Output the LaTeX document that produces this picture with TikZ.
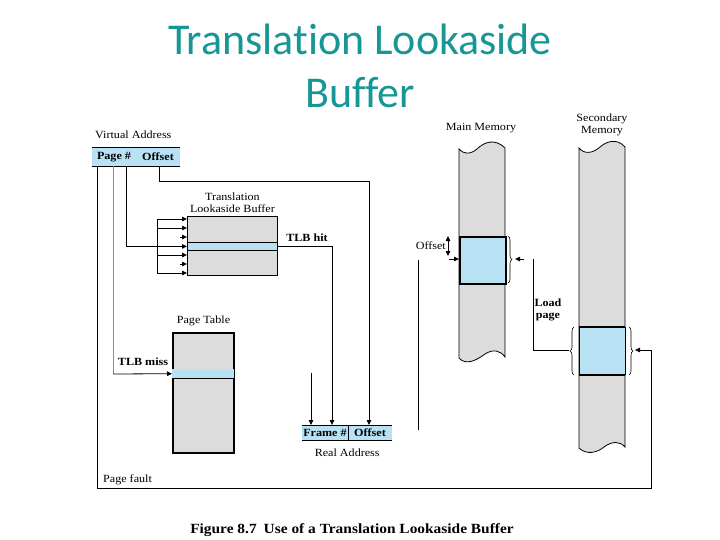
\documentclass[tikz,border=0pt]{standalone}
\usepackage{fontspec}
\setmainfont[FakeStretch=1.1]{Liberation Serif}
\newfontfamily\titlefont[Ligatures=NoCommon]{Carlito}
\usetikzlibrary{arrows.meta,positioning,decorations.pathreplacing}
\definecolor{titleteal}{RGB}{23,150,150}
\definecolor{colgray}{RGB}{220,220,221}
\definecolor{hiblue}{RGB}{184,226,244}

\begin{document}
\begin{tikzpicture}[x=1pt, y=-1pt,
    lbl/.style={font=\fontsize{11}{12.5}\selectfont, inner sep=0pt, align=center},
    boldlbl/.style={lbl, font=\fontsize{11}{12.5}\selectfont\bfseries},
    titletext/.style={font=\titlefont\fontsize{44}{50}\selectfont, text=titleteal, inner sep=0pt, anchor=base},
    tblbox/.style={draw, fill=colgray, inner sep=0pt, anchor=north west, line width=0.8pt},
    field/.style={fill=hiblue, inner sep=0pt, anchor=north west},
    wire/.style={line width=0.8pt},
    link/.style={wire, -{Triangle[length=5pt, width=4.5pt]}},
    twoway/.style={wire, {Triangle[length=5pt, width=4.5pt]}-{Triangle[length=5pt, width=4.5pt]}},
    memcol/.style={draw, fill=colgray, line width=0.8pt},
    curly/.style={decorate, decoration={brace, amplitude=4pt}, line width=0.6pt}
]
\useasboundingbox[fill=white] (0,0) rectangle (720,540);

% title
\node[titletext] (title) at (360,55) {Translation Lookaside};
\node[titletext] (title2) at (360,108) {Buffer};

% virtual address
\node[field, minimum width=88pt, minimum height=19pt] (va) at (92,147) {};
\draw[wire] (va.north west) -- (va.north east);
\draw[wire] (va.south west) -- (va.south east);
\node[boldlbl] (vapage) at (114,157) {Page \#};
\node[boldlbl] (vaoff) at (158,157) {Offset};
\node[lbl, anchor=west] (valabel) at (95,135) {Virtual Address};

% translation lookaside buffer
\node[tblbox, minimum width=90pt, minimum height=59pt] (tlb) at (187,216) {};
\node[field, draw, line width=0.8pt, minimum width=90pt, minimum height=8pt] (tlbrow) at (187,242) {};
\node[lbl, above=3pt of tlb] (tlblabel) {Translation\\Lookaside Buffer};
\draw[wire] (157,219) -- (157,273);
\foreach \yy in {219,228,255,273}
  \draw[link] (157,\yy) -- (tlb.west |- 0,\yy);
\foreach \yy in {237,264}
  \draw[link] (180,\yy) -- (tlb.west |- 0,\yy);
\draw[link] (126,166) |- (tlbrow.west);
\node[boldlbl] (hitlabel) at (307,238) {TLB hit};

% page table
\node[tblbox, line width=2pt, minimum width=61pt, minimum height=120pt] (pt) at (172,332) {};
\node[field, minimum width=62pt, minimum height=9pt] (ptrow) at (172,369) {};
\draw[wire] (ptrow.south west) -- (ptrow.south east);
\node[lbl, above=6pt of pt] (ptlabel) {Page Table};
\draw[wire, black!45] (113,166) -- (113,374);
\draw[link] (113,374) -- (ptrow.west);
\node[boldlbl] (misslabel) at (143,362) {TLB miss};

% real address
\node[field, minimum width=90pt, minimum height=15pt] (ra) at (302,425) {};
\draw[wire] (ra.north west) -- (ra.north east);
\draw[wire] (ra.south west) -- (ra.south east);
\draw[wire] (348,425) -- (348,440);
\node[boldlbl] (raframe) at (325,433) {Frame \#};
\node[boldlbl] (raoff) at (370,433) {Offset};
\node[lbl, below=8pt of ra] (ralabel) {Real Address};

% address connectors
\draw[link] (159,166) -- (159,181) -| (369,425);
\draw[link] (tlbrow.east) -| (332,425);
\draw[link] (311,373) -- (311,425);
\draw[wire] (418,430) -- (418,260);

% main memory
\draw[memcol] (459,149) .. controls (463,154) and (470,155) .. (477,149)
  .. controls (484,142) and (495,138) .. (505,148) -- (505,357)
  .. controls (500,350) and (493,349) .. (485,354)
  .. controls (477,360) and (466,366) .. (459,358) -- cycle;
\node[field, draw, line width=2pt, minimum width=46pt, minimum height=47pt] (mmblk) at (459,236) {};
\node[lbl] (mmlabel) at (481,128) {Main Memory};
\draw[twoway] (448,236) -- (448,256);
\node[lbl, anchor=east] (offlabel) at (446,246) {Offset};
\draw[link] (449,259) -- (mmblk.west |- 0,259);
\draw[curly] (508,236) -- (508,283);

% secondary memory
\draw[memcol] (579,148) .. controls (584,154) and (592,154) .. (600,147)
  .. controls (607,141) and (617,138) .. (625,147) -- (625,447)
  .. controls (620,441) and (612,441) .. (604,447)
  .. controls (597,453) and (586,455) .. (579,448) -- cycle;
\node[field, minimum width=46pt, minimum height=48pt] (smblk) at (579,327) {};
\draw[line width=2pt] (smblk.north west) -- (smblk.north east);
\draw[line width=2pt] (smblk.south west) -- (smblk.south east);
\draw[wire] (smblk.north west) -- (smblk.south west);
\draw[wire] (smblk.north east) -- (smblk.south east);
\node[lbl] (smlabel) at (602,125) {Secondary\\Memory};
\draw[curly] (574,375) -- (574,327);
\draw[curly] (629,327) -- (629,375);

% load page
\draw[wire] (569,350) -| (533,259);
\draw[link] (524,259) -- (515,259);
\node[boldlbl] (loadlabel) at (548,310) {Load\\page};

% page fault
\draw[link] (97,166) |- (651,488) |- (635,350);
\node[lbl, anchor=west] (faultlabel) at (103,480) {Page fault};

% caption
\node[font=\bfseries\fontsize{14}{16}\selectfont, anchor=base] (caption) at (352,533)
  {Figure 8.7\enspace Use of a Translation Lookaside Buffer};
\end{tikzpicture}
\end{document}
